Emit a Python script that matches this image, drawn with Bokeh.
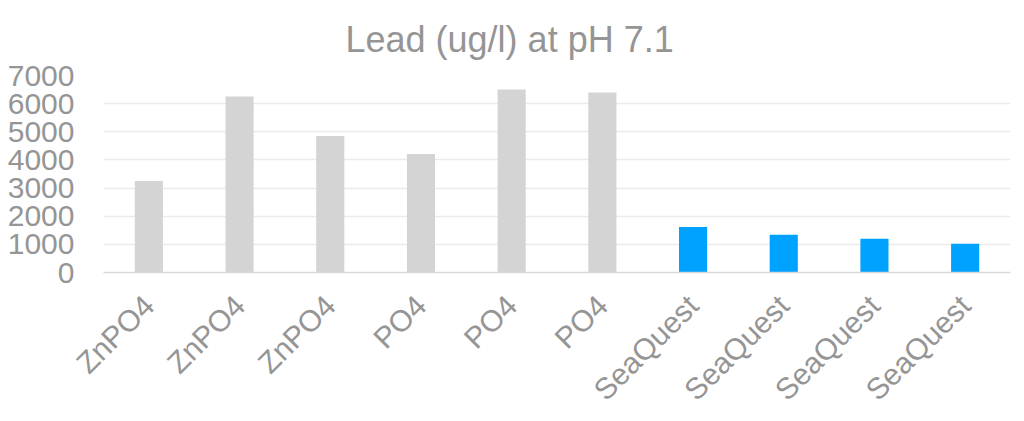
import math
from bokeh.plotting import figure
from bokeh.models import FixedTicker, Title, Range1d
from bokeh.embed import file_html
from bokeh.resources import INLINE

categories = ["ZnPO4", "ZnPO4", "ZnPO4", "PO4", "PO4", "PO4",
              "SeaQuest", "SeaQuest", "SeaQuest", "SeaQuest"]
values = [3250, 6250, 4850, 4210, 6500, 6400, 1620, 1340, 1200, 1020]
bar_colors = ["#D4D4D4"] * 6 + ["#00A2FF"] * 4
y_ticks = [0, 1000, 2000, 3000, 4000, 5000, 6000, 7000]
title_text = "Lead (ug/l) at pH 7.1"

TEXT = "#959595"
FONT = "Liberation Sans"

idx = list(range(len(categories)))

p = figure(width=1014, height=421, output_backend="svg", toolbar_location=None,
           x_range=Range1d(-0.5, len(categories) - 0.5), y_range=Range1d(0, 7000),
           min_border_left=103, min_border_right=4, min_border_top=75, min_border_bottom=148)
p.title = None
p.add_layout(Title(text=title_text, text_font=FONT, text_font_size="36px",
                   text_color=TEXT, text_font_style="normal", align="left",
                   offset=242, standoff=31), "above")

p.vbar(x=idx, top=values, width=0.31, color=bar_colors, line_color=None)

p.outline_line_color = None
p.background_fill_color = "white"
p.border_fill_color = "white"

p.xgrid.grid_line_color = None
p.ygrid.grid_line_color = "#EBEBEB"
p.ygrid.grid_line_width = 1.5

p.yaxis.ticker = FixedTicker(ticks=y_ticks)
p.yaxis.axis_line_color = None
p.yaxis.major_tick_line_color = None
p.yaxis.minor_tick_line_color = None
p.yaxis.major_tick_out = 0
p.yaxis.major_label_standoff = 29
p.yaxis.major_label_text_font = FONT
p.yaxis.major_label_text_font_size = "30px"
p.yaxis.major_label_text_color = TEXT

p.xaxis.ticker = FixedTicker(ticks=idx)
p.xaxis.major_label_overrides = {i: c for i, c in zip(idx, categories)}
p.xaxis.major_label_orientation = math.pi / 4
p.xaxis.axis_line_color = "#D9D9D9"
p.xaxis.axis_line_width = 1.5
p.xaxis.major_tick_line_color = None
p.xaxis.minor_tick_line_color = None
p.xaxis.major_tick_out = 0
p.xaxis.major_tick_in = 0
p.xaxis.major_label_standoff = 28
p.xaxis.major_label_text_font = FONT
p.xaxis.major_label_text_font_size = "30px"
p.xaxis.major_label_text_color = TEXT

open("out.html", "w").write(file_html(p, INLINE))
